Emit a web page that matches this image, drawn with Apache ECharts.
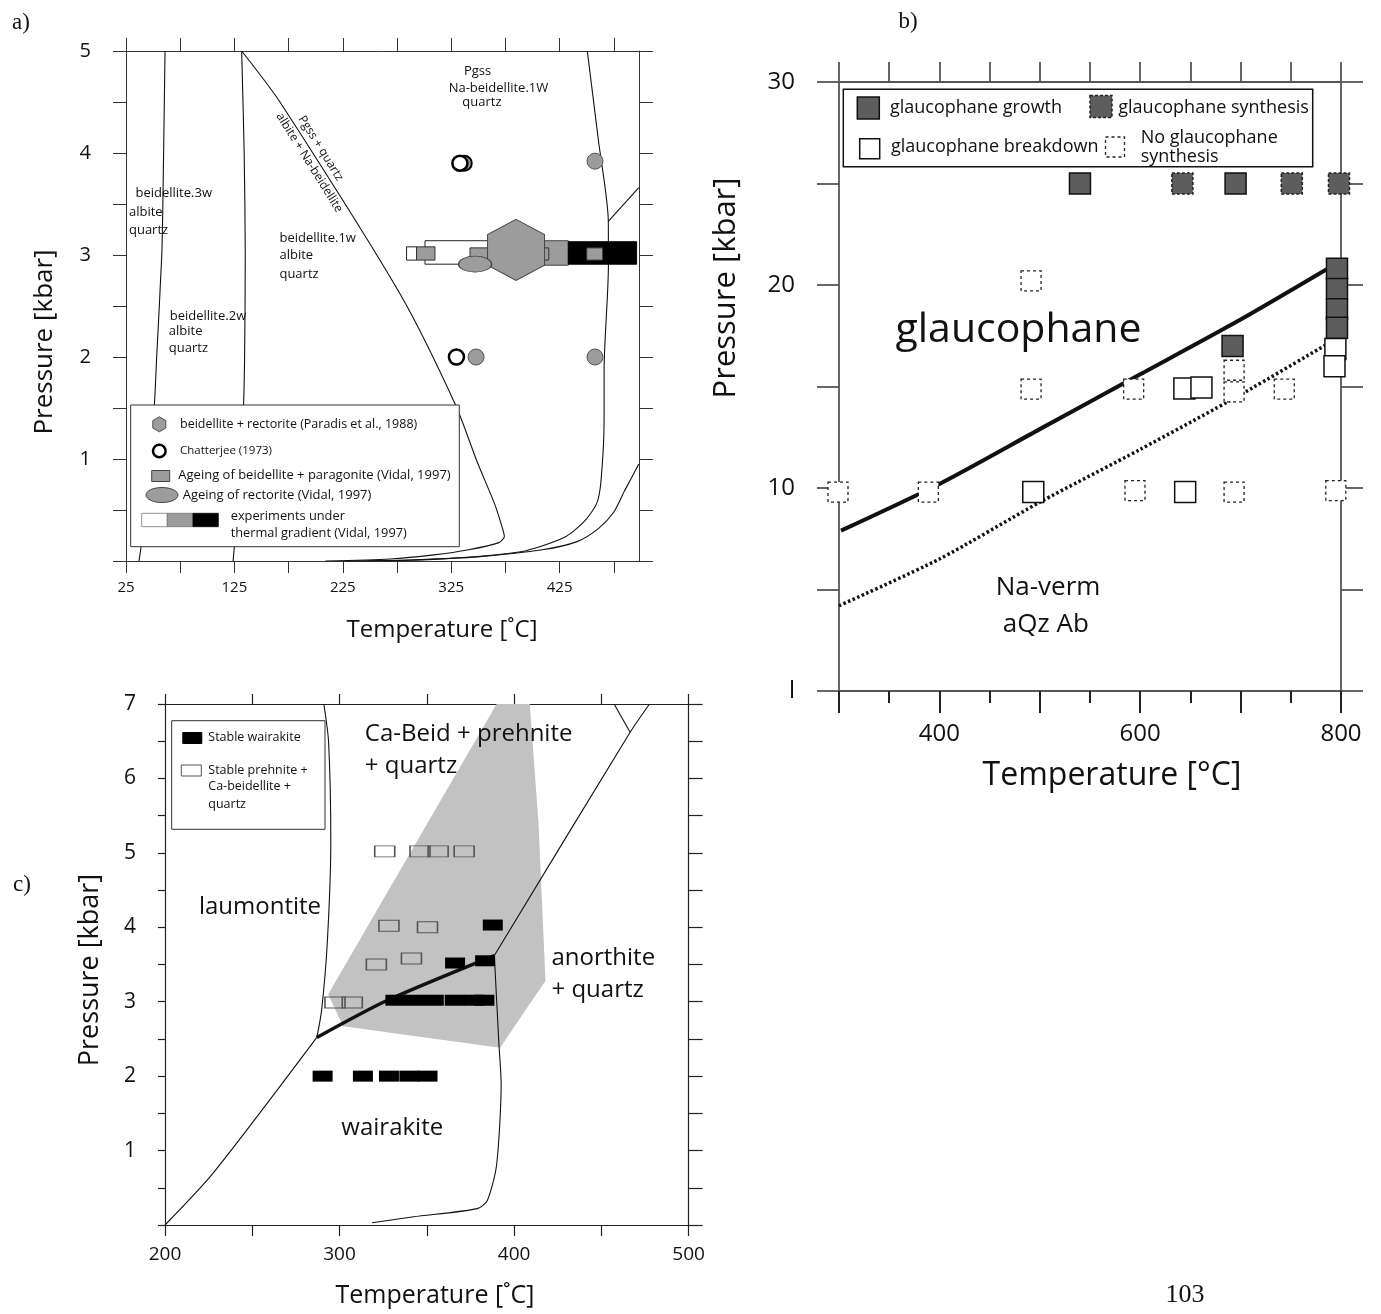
<!DOCTYPE html>
<html>
<head>
<meta charset="utf-8">
<title>Phase diagrams a) b) c)</title>
<script src="https://cdn.jsdelivr.net/npm/echarts@6/dist/echarts.min.js"></script>
<style>
html, body { margin: 0; padding: 0; background: #fff; }
#figure { width: 1381px; height: 1314px; }
</style>
</head>
<body>
<div id="figure"></div>
<script>
// ---------- a) beidellite / rectorite, T [degC] vs P [kbar] ----------
var aTickX = [25, 75, 125, 175, 225, 275, 325, 375, 425, 475];
var aLabelX = [25, 125, 225, 325, 425];
var aTickY = [0, 0.5, 1, 1.5, 2, 2.5, 3, 3.5, 4, 4.5, 5];
var aLabelY = [1, 2, 3, 4, 5];

var aCurve3w = [[61, 5], [59, 3.5], [58, 3], [53.3, 2], [51, 1.5], [45, 0.8], [39, 0.15], [37, 0]];
var aCurve2w = [[131.7, 5], [134, 4], [135, 3], [134.4, 2], [133, 1.4], [128, 0.5], [125, 0.15], [123.8, 0]];
var aCurvePgss = [[131.7, 5], [167, 4.5], [277.7, 2.62], [329, 1.53], [349, 0.97], [365, 0.56], [372, 0.33],
  [374, 0.24], [369, 0.18], [341, 0.11], [309, 0.06], [269, 0.02], [209, 0]];
var aCurveRight = [[450.5, 5], [460.7, 4.13], [469.9, 3.33], [470, 2.9], [466, 1.87], [466, 1.38], [463, 0.77],
  [459, 0.56], [447, 0.38], [429, 0.23], [389, 0.09], [309, 0.016], [229, 0]];
var aCurveBranch = [[469.9, 3.33], [498, 3.66]];
var aCurveLow = [[498, 0.95], [485, 0.69], [475, 0.48], [461, 0.32], [441, 0.19], [409, 0.11], [349, 0.04],
  [289, 0.01], [249, 0]];

// thermal gradient bars: [Tmin, Tmax, Pmin, Pmax]
var aGradWhite = [[300.8, 365, 2.91, 3.14]];
var aGradGray = [[363.8, 433, 2.90, 3.14]];
var aGradBlack = [[433, 496, 2.91, 3.13]];
var aAgeingWhite = [[283.8, 293, 2.95, 3.08]];
var aAgeingGray = [[293, 310, 2.95, 3.08], [342.3, 359, 2.95, 3.07], [399, 415, 2.95, 3.07], [450, 464.7, 2.95, 3.07]];
var aParadis = [[384.8, 3.05]];
var aRectorite = [[347, 2.91]];
var aChatterjee = [[333, 3.9], [329.8, 2]];
var aChatterjeeHalf = [[337, 3.9]];
var aGrayCircles = [[347.9, 2], [457.6, 3.92], [457.6, 2]];

// ---------- b) glaucophane, T [degC] vs P [kbar] ----------
var bTickX = [300, 350, 400, 450, 500, 550, 600, 650, 700, 750, 800];
var bLabelX = [400, 600, 800];
var bTickY = [0, 5, 10, 15, 20, 25, 30];
var bLabelY = [0, 10, 20, 30];
var bSolid = [[302, 7.9], [400, 10.2], [500, 12.9], [600, 15.6], [700, 18.3], [790, 20.9]];
var bDotted = [[300, 4.2], [400, 6.5], [500, 9.3], [600, 11.9], [700, 14.6], [790, 17.2]];
var bGrowth = [[540, 25], [695, 25], [692, 17], [796, 20.8], [796, 19.8], [796, 18.8], [796, 17.9]];
var bSynthesis = [[642, 25], [751, 25], [798, 25]];
var bBreakdown = [[493.5, 9.8], [644, 14.9], [661, 14.95], [644.8, 9.8], [794.4, 16.85], [793.5, 16.0]];
var bNoSynthesis = [[299, 9.8], [389, 9.8], [491.3, 20.2], [491.3, 14.87], [593.5, 14.87], [594.8, 9.87],
  [693.5, 15.8], [693.5, 14.74], [693.5, 9.8], [743.5, 14.87], [794.8, 9.87]];

// ---------- c) wairakite / laumontite, T [degC] vs P [kbar] ----------
var cTickX = [200, 250, 300, 350, 400, 450, 500];
var cLabelX = [200, 300, 400, 500];
var cTickY = [0, 0.5, 1, 1.5, 2, 2.5, 3, 3.5, 4, 4.5, 5, 5.5, 6, 6.5, 7];
var cLabelY = [1, 2, 3, 4, 5, 6, 7];
var cGrayField = [[390, 7], [409, 7], [414, 5.4], [418, 3.28], [392, 2.38], [302, 2.67], [293.5, 3.1]];
var cLaumontite = [[291, 7], [293.7, 6.5], [295, 5.15], [293, 3.8], [289.7, 2.88], [287, 2.52]];
var cLowLeft = [[200, 0], [227.7, 0.7], [287, 2.52]];
var cThick = [[287, 2.52], [326.6, 3.01], [388.7, 3.62]];
var cUpRight = [[388.7, 3.62], [466.5, 6.62], [477.6, 7]];
var cFork = [[466.5, 6.62], [457.3, 7]];
var cLowRight = [[388.7, 3.62], [391.3, 2.44], [392.6, 1.9], [390, 0.81], [384.7, 0.33], [378.9, 0.22],
  [342.5, 0.11], [318.7, 0.03]];
var cWairakite = [[290.3, 2], [313.4, 2], [328.3, 2], [340, 2], [350.4, 2],
  [332, 3.02], [343, 3.02], [354, 3.02], [366, 3.02], [377, 3.02], [383, 3.02],
  [366.2, 3.52], [383.4, 3.55], [387.8, 4.03]];
var cPrehnite = [[325.9, 5.02], [346.1, 5.02], [356.5, 5.02], [371.4, 5.02], [328.3, 4.02], [350.4, 4.0],
  [321.1, 3.5], [341.2, 3.58], [297.4, 2.99], [307.3, 2.99]];

var SANS = '"Open Sans", "Noto Sans", sans-serif';
var SERIF = '"Liberation Serif", "DejaVu Serif", serif';
var GRAY = '#9c9c9c';
var DARK = '#5d5d5d';
// each panel owns two x axes and two y axes; series sit on the first pair
var PA = 0, PB = 2, PC = 4;

function axis(grid, pos, min, max, ticks, len, labels, size, margin, color, width) {
  return {
    type: 'value', gridIndex: grid, position: pos, min: min, max: max,
    splitLine: { show: false },
    axisLine: { show: true, onZero: false, lineStyle: { color: color, width: width } },
    axisTick: { show: true, inside: false, length: len, customValues: ticks, lineStyle: { color: color, width: width } },
    axisLabel: labels ? { show: true, customValues: labels, fontSize: size, margin: margin, color: '#111', fontFamily: SANS }
      : { show: false }
  };
}

function curve(idx, data, width, type) {
  return {
    type: 'line', xAxisIndex: idx, yAxisIndex: idx, data: data, symbol: 'none', smooth: 0.25,
    lineStyle: { color: '#111', width: width || 1.1, type: type || 'solid' }, silent: true, z: 2
  };
}

function rangeRect(idx, data, fill, stroke) {
  return {
    type: 'custom', xAxisIndex: idx, yAxisIndex: idx, data: data, encode: { x: [0, 1], y: [2, 3] }, silent: true, z: 3,
    renderItem: function (params, api) {
      var p0 = api.coord([api.value(0), api.value(3)]);
      var p1 = api.coord([api.value(1), api.value(2)]);
      return {
        type: 'rect', shape: { x: p0[0], y: p0[1], width: p1[0] - p0[0], height: p1[1] - p0[1] },
        style: { fill: fill, stroke: stroke, lineWidth: 1 }
      };
    }
  };
}

function marks(idx, data, symbol, size, style) {
  return {
    type: 'scatter', xAxisIndex: idx, yAxisIndex: idx, data: data, symbol: symbol, symbolSize: size,
    itemStyle: Object.assign({ opacity: 1 }, style), silent: true, clip: false, z: 4
  };
}

function notes(idx, items, size, align, rotate) {
  return {
    type: 'scatter', xAxisIndex: idx, yAxisIndex: idx, symbolSize: 1, silent: true, z: 5,
    itemStyle: { color: 'transparent', opacity: 1 },
    data: items.map(function (t) { return { name: t[0], value: [t[1], t[2]] }; }),
    label: {
      show: true, formatter: '{b}', position: [0, 0], align: align, verticalAlign: 'middle',
      rotate: rotate || 0, fontSize: size, fontFamily: SANS, color: '#111', opacity: 1
    }
  };
}

// ----- graphic helpers (legends, titles) -----
function txt(x, y, s, font, align, rot) {
  return {
    type: 'text', x: x, y: y, rotation: rot || 0, z: 100,
    style: { text: s, font: font, fill: '#111', align: align || 'left', verticalAlign: 'middle' }
  };
}
function box(x, y, w, h, fill, stroke, lw, dash) {
  return {
    type: 'rect', z: 100, shape: { x: x, y: y, width: w, height: h },
    style: { fill: fill, stroke: stroke, lineWidth: lw || 1, lineDash: dash || null }
  };
}

var graphics = [
  txt(21, 23, 'a)', '23px ' + SERIF, 'center'),
  txt(908, 22, 'b)', '23px ' + SERIF, 'center'),
  txt(22, 885, 'c)', '23px ' + SERIF, 'center'),
  txt(1185, 1295, '103', '26px ' + SERIF, 'center'),

  txt(45, 342, 'Pressure [kbar]', '26px ' + SANS, 'center', Math.PI / 2),
  txt(442, 630, 'Temperature [\u02DAC]', '24px ' + SANS, 'center'),
  txt(726, 288, 'Pressure [kbar]', '31px ' + SANS, 'center', Math.PI / 2),
  txt(1112, 776, 'Temperature [\u00B0C]', '32px ' + SANS, 'center'),
  txt(90, 970, 'Pressure [kbar]', '27px ' + SANS, 'center', Math.PI / 2),
  txt(435, 1296, 'Temperature [\u02DAC]', '25px ' + SANS, 'center'),

  // legend a
  box(130.7, 405, 328.6, 141.7, '#fff', '#333', 1),
  { type: 'polygon', z: 101, shape: { points: [[159.3, 416.8], [165.8, 420.6], [165.8, 428.1], [159.3, 431.8], [152.8, 428.1], [152.8, 420.6]] },
    style: { fill: GRAY, stroke: '#555', lineWidth: 1 } },
  txt(180, 424.3, 'beidellite + rectorite (Paradis et al., 1988)', '12.5px ' + SANS),
  { type: 'circle', z: 101, shape: { cx: 159.3, cy: 451, r: 6.3 }, style: { fill: '#fff', stroke: '#000', lineWidth: 2.5 } },
  txt(180, 451, 'Chatterjee (1973)', '11.5px ' + SANS),
  box(151.7, 470.5, 18, 11, GRAY, '#444', 1),
  txt(178.3, 475.5, 'Ageing of beidellite + paragonite (Vidal, 1997)', '13px ' + SANS),
  { type: 'ellipse', z: 101, shape: { cx: 162, cy: 495, rx: 16, ry: 7.5 }, style: { fill: GRAY, stroke: '#444', lineWidth: 1 } },
  txt(182.7, 495, 'Ageing of rectorite (Vidal, 1997)', '13px ' + SANS),
  box(141.7, 513.3, 25.6, 13.4, '#fff', '#777', 0.8),
  box(167.3, 513.3, 25.7, 13.4, GRAY, '#777', 0.8),
  box(193, 513.3, 25.3, 13.4, '#000', '#000', 0.8),
  txt(230.7, 516.7, 'experiments under', '12.8px ' + SANS),
  txt(230.7, 533.3, 'thermal gradient (Vidal, 1997)', '12.8px ' + SANS),

  // legend b
  box(843.3, 89.3, 469.4, 77.4, '#fff', '#111', 1.5),
  box(857.3, 97, 22, 22, DARK, '#111', 1.5),
  txt(890, 108.3, 'glaucophane growth', '18px ' + SANS),
  box(1090, 95.5, 22, 22, DARK, '#222', 1.5, [3, 2]),
  txt(1118.3, 108.3, 'glaucophane synthesis', '18px ' + SANS),
  box(859.7, 138.8, 20, 20, '#fff', '#111', 1.5),
  txt(891, 147, 'glaucophane breakdown', '18px ' + SANS),
  box(1105.5, 137, 19, 20, '#fff', '#222', 1.3, [3, 3]),
  txt(1140.7, 137.7, 'No glaucophane', '18px ' + SANS),
  txt(1140.7, 156.7, 'synthesis', '18px ' + SANS),

  // legend c
  box(171.7, 720.7, 153.3, 108.6, '#fff', '#333', 1),
  box(182.8, 732.5, 19, 11, '#000', '#000', 1),
  txt(208.3, 737.7, 'Stable wairakite', '12.5px ' + SANS),
  box(181.3, 765, 20, 11, '#fff', '#555', 1),
  txt(208.3, 770.7, 'Stable prehnite +', '12.5px ' + SANS),
  txt(208.3, 786.7, 'Ca-beidellite +', '12.5px ' + SANS),
  txt(208.3, 804, 'quartz', '12.5px ' + SANS)
];

var bottomB = {
  type: 'value', gridIndex: 1, position: 'bottom', min: 300, max: 800, interval: 100,
  splitLine: { show: false },
  axisLine: { show: true, onZero: false, lineStyle: { color: '#555', width: 1.8 } },
  axisTick: { show: true, length: 22, lineStyle: { color: '#222', width: 2 } },
  minorTick: { show: true, splitNumber: 2, length: 12, lineStyle: { color: '#222', width: 2 } },
  axisLabel: { customValues: bLabelX, fontSize: 24, margin: 31, color: '#111', fontFamily: SANS }
};
var leftB = axis(1, 'left', 0, 30, bTickY, 22, bLabelY, 24, 44, '#555', 1.8);
leftB.axisLabel.formatter = function (v) { return v === 0 ? 'l' : String(v); };

var option = {
  animation: false,
  backgroundColor: '#fff',
  grid: [
    { left: 126, top: 51, width: 513, height: 510, outerBoundsMode: 'none' },
    { left: 839, top: 82, width: 502, height: 609, outerBoundsMode: 'none' },
    { left: 165, top: 704, width: 523.6, height: 521, outerBoundsMode: 'none' }
  ],
  xAxis: [
    axis(0, 'bottom', 25, 498.2, aTickX, 12, aLabelX, 15, 19, '#333', 1),
    axis(0, 'top', 25, 498.2, aTickX, 13, null, 0, 0, '#333', 1),
    bottomB,
    axis(1, 'top', 300, 800, bTickX, 20, null, 0, 0, '#555', 1.8),
    axis(2, 'bottom', 200, 500, cTickX, 11, cLabelX, 19, 20, '#222', 1.2),
    axis(2, 'top', 200, 500, cTickX, 10, null, 0, 0, '#222', 1.2)
  ],
  yAxis: [
    axis(0, 'left', 0, 5, aTickY, 13, aLabelY, 20, 35, '#333', 1),
    axis(0, 'right', 0, 5, aTickY, 14, null, 0, 0, '#333', 1),
    leftB,
    axis(1, 'right', 0, 30, bTickY, 22, null, 0, 0, '#555', 1.8),
    axis(2, 'left', 0, 7, cTickY, 7, cLabelY, 21, 29, '#222', 1.2),
    axis(2, 'right', 0, 7, cTickY, 14, null, 0, 0, '#222', 1.2)
  ],
  graphic: graphics,
  series: [
    // ----- panel a -----
    curve(PA, aCurve3w), curve(PA, aCurve2w), curve(PA, aCurvePgss),
    curve(PA, aCurveRight), curve(PA, aCurveBranch), curve(PA, aCurveLow),
    rangeRect(PA, aGradWhite, '#fff', '#222'),
    rangeRect(PA, aAgeingWhite, '#fff', '#222'),
    marks(PA, aParadis, 'path://M0,-1 L0.866,-0.5 L0.866,0.5 L0,1 L-0.866,0.5 L-0.866,-0.5 Z', [57, 61],
      { color: GRAY, borderColor: '#444', borderWidth: 1 }),
    rangeRect(PA, aGradGray, GRAY, '#444'),
    rangeRect(PA, aGradBlack, '#000', '#000'),
    rangeRect(PA, aAgeingGray, GRAY, '#333'),
    marks(PA, aRectorite, 'circle', [33, 16], { color: GRAY, borderColor: '#444', borderWidth: 1 }),
    marks(PA, aChatterjeeHalf, 'circle', 15, { color: GRAY, borderColor: '#000', borderWidth: 2 }),
    marks(PA, aChatterjee, 'circle', 15, { color: '#fff', borderColor: '#000', borderWidth: 2.5 }),
    marks(PA, aGrayCircles, 'circle', 16, { color: GRAY, borderColor: '#555', borderWidth: 1 }),
    notes(PA, [['Pgss', 349.8, 4.80], ['Na-beidellite.1W', 369, 4.63], ['quartz', 353.8, 4.49]], 13, 'center'),
    notes(PA, [['beidellite.3w', 34.2, 3.60], ['albite', 28.2, 3.41], ['quartz', 28.2, 3.24],
      ['beidellite.2w', 65.8, 2.39], ['albite', 65, 2.25], ['quartz', 65, 2.08],
      ['beidellite.1w', 167, 3.16], ['albite', 167, 2.99], ['quartz', 167, 2.81]], 13, 'left'),
    notes(PA, [['Pgss + quartz', 205.1, 4.04]], 12, 'center', -58),
    notes(PA, [['albite + Na-beidellite', 194.6, 3.90]], 12, 'center', -58),

    // ----- panel b -----
    curve(PB, bSolid, 4),
    curve(PB, bDotted, 3.5, [2.5, 2.5]),
    marks(PB, bNoSynthesis, 'rect', 20, { color: '#fff', borderColor: '#222', borderWidth: 1.3, borderType: [3, 3] }),
    marks(PB, bBreakdown, 'rect', 21, { color: '#fff', borderColor: '#111', borderWidth: 1.5 }),
    marks(PB, bGrowth, 'rect', 21, { color: DARK, borderColor: '#111', borderWidth: 1.5 }),
    marks(PB, bSynthesis, 'rect', 21, { color: DARK, borderColor: '#222', borderWidth: 1.5, borderType: [3, 2] }),
    notes(PB, [['glaucophane', 479.3, 17.75]], 41, 'center'),
    notes(PB, [['Na-verm', 508.7, 5.07], ['aQz Ab', 506.5, 3.27]], 26, 'center'),

    // ----- panel c -----
    {
      type: 'custom', xAxisIndex: PC, yAxisIndex: PC, data: cGrayField, encode: { x: 0, y: 1 }, silent: true, z: 1,
      renderItem: function (params, api) {
        if (params.dataIndex !== 0) return { type: 'group', children: [] };
        return {
          type: 'polygon',
          shape: { points: cGrayField.map(function (p) { return api.coord(p); }) },
          style: { fill: '#c2c2c2' }
        };
      }
    },
    curve(PC, cLaumontite), curve(PC, cLowLeft), curve(PC, cUpRight), curve(PC, cFork), curve(PC, cLowRight),
    marks(PC, cPrehnite, 'rect', [20, 11], { color: 'transparent', borderColor: '#555', borderWidth: 1.2 }),
    marks(PC, cWairakite, 'rect', [20, 11], { color: '#000' }),
    curve(PC, cThick, 3.5),
    notes(PC, [['Ca-Beid + prehnite', 314.8, 6.59], ['+ quartz', 314.8, 6.16],
      ['anorthite', 421.7, 3.58], ['+ quartz', 421.7, 3.15]], 24, 'left'),
    notes(PC, [['laumontite', 254.7, 4.26], ['wairakite', 330.5, 1.30]], 24, 'center')
  ]
};

var chart = echarts.init(document.getElementById('figure'));
chart.setOption(option);
</script>
</body>
</html>
